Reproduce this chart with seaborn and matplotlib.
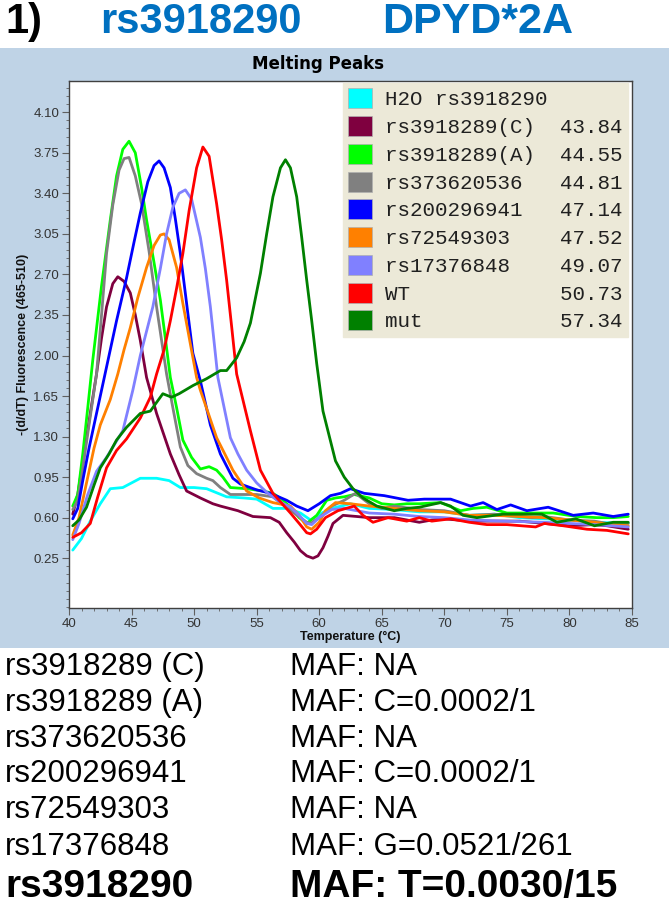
import numpy as np
import pandas as pd
import matplotlib
matplotlib.use("Agg")
import matplotlib.pyplot as plt
from matplotlib.patches import Patch, Rectangle
from matplotlib.ticker import AutoMinorLocator, FormatStrFormatter
import seaborn as sns

# ---- data ----
samples = ["H2O rs3918290", "rs3918289(C)", "rs3918289(A)", "rs373620536",
           "rs200296941", "rs72549303", "rs17376848", "WT", "mut"]
tm_values = ["", "43.84", "44.55", "44.81", "47.14", "47.52", "49.07", "50.73", "57.34"]
colors = ["#00FFFF", "#7F003F", "#00FF00", "#808080", "#0000FF",
          "#FF8000", "#8080FF", "#FF0000", "#008000"]

h2o_t = [40.3, 41.0, 41.7, 42.5, 43.3, 44.3, 45.0, 45.7, 47.0, 48.0, 48.9, 50.0, 51.0, 52.6,
         54.0, 55.0, 56.3, 57.5, 58.5, 59.3, 60.2, 61.0, 62.5, 64.0, 66.0, 68.0, 70.0, 72.0,
         74.0, 76.0, 78.0, 80.0, 82.0, 84.7]
h2o_y = [0.32, 0.42, 0.57, 0.72, 0.85, 0.86, 0.90, 0.94, 0.94, 0.92, 0.86, 0.86, 0.85, 0.78,
         0.77, 0.76, 0.68, 0.68, 0.64, 0.58, 0.64, 0.68, 0.72, 0.68, 0.67, 0.65, 0.65, 0.62,
         0.63, 0.60, 0.59, 0.58, 0.56, 0.55]

c_t = [40.3, 40.7, 41.2, 41.7, 42.2, 42.6, 43.0, 43.5, 43.9, 44.4, 44.9, 45.3, 45.7, 46.2,
       47.0, 48.1, 48.8, 49.4, 50.5, 51.5, 52.1, 53.5, 54.7, 56.1, 56.8, 57.4, 58.0, 58.5,
       59.0, 59.5, 59.9, 60.3, 60.7, 61.1, 61.9, 63.0, 64.0, 66.0, 67.0, 68.0, 69.0, 70.0,
       72.0, 74.0, 76.0, 78.0, 80.0, 82.0, 83.0, 84.7]
c_y = [0.63, 0.80, 1.15, 1.50, 1.84, 2.15, 2.42, 2.62, 2.68, 2.64, 2.54, 2.35, 2.13, 1.81,
       1.50, 1.15, 0.97, 0.83, 0.77, 0.72, 0.70, 0.66, 0.61, 0.60, 0.56, 0.47, 0.39, 0.315,
       0.27, 0.25, 0.27, 0.34, 0.44, 0.55, 0.62, 0.61, 0.60, 0.60, 0.58, 0.56, 0.58, 0.59,
       0.57, 0.57, 0.57, 0.55, 0.53, 0.54, 0.53, 0.50]

a_t = [40.3, 40.7, 41.1, 41.5, 41.9, 42.6, 43.3, 43.8, 44.3, 44.8, 45.3, 45.8, 46.2, 46.8,
       47.3, 47.7, 48.1, 48.6, 49.1, 49.8, 50.5, 51.2, 51.8, 52.3, 52.9, 54.2, 55.5, 56.3,
       57.0, 57.7, 58.4, 59.0, 59.8, 60.6, 61.3, 62.0, 62.8, 64.0, 65.0, 66.0, 67.0, 68.0,
       69.7, 71.3, 72.3, 73.4, 75.0, 76.9, 78.7, 80.6, 82.2, 83.5, 84.7]
a_y = [0.70, 0.80, 1.15, 1.55, 1.96, 2.60, 3.17, 3.55, 3.78, 3.85, 3.75, 3.45, 3.17, 2.80,
       2.48, 2.15, 1.81, 1.55, 1.27, 1.12, 1.02, 1.04, 1.01, 0.95, 0.86, 0.85, 0.83, 0.81,
       0.76, 0.69, 0.60, 0.55, 0.62, 0.75, 0.77, 0.78, 0.80, 0.77, 0.72, 0.71, 0.72, 0.72,
       0.73, 0.66, 0.68, 0.69, 0.64, 0.64, 0.64, 0.61, 0.60, 0.60, 0.61]

g_t = [40.3, 40.7, 41.0, 41.6, 42.2, 42.6, 43.0, 43.5, 44.0, 44.4, 44.8, 45.3, 45.8, 46.4,
       47.0, 47.8, 48.3, 48.9, 49.5, 50.2, 51.0, 51.5, 52.1, 52.9, 54.0, 55.0, 56.3, 57.0,
       58.0, 59.0, 59.3, 60.0, 61.0, 62.0, 62.9, 64.0, 65.0, 66.0, 68.0, 70.0, 71.0, 72.0,
       74.0, 75.0, 77.0, 78.0, 80.0, 82.0, 83.0, 84.7]
g_y = [0.67, 0.75, 0.95, 1.40, 1.84, 2.35, 2.88, 3.30, 3.60, 3.70, 3.71, 3.55, 3.31, 2.90,
       2.42, 1.84, 1.55, 1.21, 1.05, 0.98, 0.94, 0.92, 0.86, 0.80, 0.80, 0.80, 0.78, 0.72,
       0.64, 0.56, 0.55, 0.60, 0.70, 0.75, 0.81, 0.72, 0.68, 0.70, 0.67, 0.66, 0.64, 0.62,
       0.63, 0.62, 0.60, 0.61, 0.58, 0.57, 0.55, 0.55]

b_t = [40.3, 40.7, 41.1, 41.6, 42.2, 43.0, 43.8, 44.6, 45.2, 45.7, 46.3, 46.8, 47.2, 47.6,
       48.1, 48.5, 48.9, 49.4, 49.9, 50.5, 51.3, 52.1, 53.1, 53.7, 55.0, 56.1, 57.4, 58.2,
       59.1, 60.0, 60.9, 61.7, 62.5, 63.6, 65.2, 67.1, 68.4, 70.5, 72.1, 73.1, 74.2, 75.3,
       76.6, 78.3, 80.3, 81.9, 83.5, 84.7]
b_y = [0.59, 0.68, 0.92, 1.20, 1.50, 1.90, 2.30, 2.67, 2.98, 3.23, 3.50, 3.64, 3.68, 3.62,
       3.45, 3.18, 2.88, 2.45, 2.02, 1.78, 1.40, 1.15, 0.94, 0.89, 0.84, 0.81, 0.75, 0.70,
       0.66, 0.72, 0.79, 0.81, 0.85, 0.81, 0.79, 0.75, 0.76, 0.76, 0.70, 0.73, 0.67, 0.71,
       0.66, 0.69, 0.62, 0.64, 0.61, 0.63]

o_t = [40.3, 40.8, 41.5, 42.0, 42.5, 43.3, 43.9, 44.4, 44.9, 45.5, 46.2, 46.8, 47.3, 47.6,
       48.0, 48.6, 49.1, 49.7, 50.2, 50.5, 51.2, 51.8, 52.5, 53.1, 54.2, 55.2, 56.3, 57.7,
       58.4, 59.0, 59.4, 60.0, 60.5, 61.3, 62.5, 64.0, 66.0, 68.0, 70.0, 72.0, 74.0, 76.0,
       78.0, 80.0, 82.0, 83.5, 84.7]
o_y = [0.45, 0.60, 0.95, 1.20, 1.40, 1.62, 1.84, 2.05, 2.24, 2.50, 2.76, 2.95, 3.04, 3.05,
       3.00, 2.76, 2.45, 2.10, 1.81, 1.70, 1.48, 1.29, 1.14, 1.01, 0.83, 0.77, 0.73, 0.70,
       0.62, 0.52, 0.50, 0.56, 0.66, 0.73, 0.72, 0.70, 0.68, 0.66, 0.65, 0.62, 0.62, 0.61,
       0.60, 0.58, 0.56, 0.54, 0.53]

l_t = [40.3, 40.8, 41.5, 42.2, 43.0, 44.3, 45.1, 45.7, 46.7, 47.3, 47.8, 48.3, 48.8, 49.3,
       49.8, 50.5, 50.9, 51.3, 51.9, 52.9, 53.5, 54.2, 55.0, 55.9, 56.8, 57.7, 58.4, 59.0,
       59.4, 60.0, 61.0, 62.0, 63.0, 64.0, 66.0, 68.0, 70.0, 72.0, 75.0, 78.0, 80.0, 82.0,
       84.7]
l_y = [0.41, 0.55, 0.80, 1.00, 1.12, 1.35, 1.70, 2.00, 2.42, 2.75, 3.05, 3.28, 3.40, 3.43,
       3.35, 3.02, 2.75, 2.42, 1.81, 1.29, 1.15, 1.01, 0.90, 0.81, 0.74, 0.69, 0.62, 0.55,
       0.54, 0.60, 0.67, 0.68, 0.66, 0.64, 0.63, 0.61, 0.60, 0.58, 0.57, 0.56, 0.55, 0.54,
       0.52]

wt_t = [40.3, 41.0, 41.7, 42.3, 43.0, 43.8, 44.6, 45.7, 46.5, 47.0, 47.6, 48.1, 48.6, 49.1,
        49.6, 50.2, 50.7, 51.2, 51.8, 52.2, 52.6, 53.0, 53.4, 54.5, 55.3, 56.3, 57.7, 58.4,
        59.0, 59.3, 59.8, 60.5, 61.5, 62.8, 63.5, 64.3, 65.5, 67.0, 68.0, 69.0, 70.5, 72.0,
        73.4, 75.0, 77.3, 78.0, 79.5, 81.4, 83.0, 84.7]
wt_y = [0.43, 0.47, 0.55, 0.78, 1.03, 1.18, 1.28, 1.46, 1.64, 1.84, 2.05, 2.30, 2.58, 2.88,
        3.25, 3.62, 3.80, 3.72, 3.31, 3.00, 2.65, 2.25, 1.84, 1.35, 1.01, 0.81, 0.64, 0.55,
        0.47, 0.46, 0.50, 0.60, 0.66, 0.70, 0.62, 0.56, 0.60, 0.57, 0.60, 0.57, 0.59, 0.56,
        0.54, 0.54, 0.52, 0.55, 0.53, 0.50, 0.49, 0.46]

mut_t = [40.3, 40.8, 41.4, 42.0, 42.5, 43.2, 43.8, 44.6, 45.7, 46.5, 47.5, 48.2, 48.8, 49.9,
         51.0, 52.1, 52.6, 53.4, 54.0, 54.5, 55.3, 55.8, 56.3, 56.9, 57.3, 57.7, 58.2, 58.6,
         59.0, 59.4, 59.8, 60.3, 61.3, 62.0, 62.7, 63.5, 64.6, 66.0, 67.0, 68.0, 69.7, 70.5,
         71.5, 72.6, 74.7, 76.5, 77.8, 79.0, 80.5, 82.0, 83.5, 84.7]
mut_y = [0.53, 0.58, 0.69, 0.88, 1.03, 1.15, 1.27, 1.38, 1.50, 1.52, 1.67, 1.64, 1.67, 1.74,
         1.80, 1.87, 1.87, 1.98, 2.12, 2.28, 2.71, 3.05, 3.37, 3.62, 3.69, 3.62, 3.37, 3.02,
         2.65, 2.30, 1.93, 1.52, 1.09, 0.95, 0.85, 0.77, 0.70, 0.66, 0.68, 0.69, 0.73, 0.70,
         0.62, 0.60, 0.63, 0.63, 0.63, 0.56, 0.59, 0.53, 0.56, 0.56]

x_ticks = [40, 45, 50, 55, 60, 65, 70, 75, 80, 85]
y_ticks = [0.25, 0.60, 0.95, 1.30, 1.65, 2.00, 2.35, 2.70, 3.05, 3.40, 3.75, 4.10]

snp_names = ["rs3918289 (C)", "rs3918289 (A)", "rs373620536", "rs200296941",
             "rs72549303", "rs17376848", "rs3918290"]
snp_maf = ["MAF: NA", "MAF: C=0.0002/1", "MAF: NA", "MAF: C=0.0002/1",
           "MAF: NA", "MAF: G=0.0521/261", "MAF: T=0.0030/15"]

series_t = [h2o_t, c_t, a_t, g_t, b_t, o_t, l_t, wt_t, mut_t]
series_y = [h2o_y, c_y, a_y, g_y, b_y, o_y, l_y, wt_y, mut_y]

df = pd.concat([pd.DataFrame({"Temperature": t, "Signal": y, "Sample": s})
                for t, y, s in zip(series_t, series_y, samples)], ignore_index=True)

sns.set_theme(style="white")
plt.rcParams["font.family"] = ["Liberation Sans", "DejaVu Sans"]

W, H = 669, 909
fig = plt.figure(figsize=(W / 100, H / 100), dpi=100)
fig.patch.set_facecolor("white")

# light-blue instrument panel behind the axes
fig.patches.append(Rectangle((0, 1 - 648 / H), 1, 600 / H, transform=fig.transFigure,
                             facecolor="#BFD3E6", edgecolor="none", zorder=-10))

ax = fig.add_axes([69 / W, 1 - 608 / H, 563 / W, 527 / H])
ax.set_zorder(5)
ax.set_facecolor("white")

sns.lineplot(data=df, x="Temperature", y="Signal", hue="Sample", hue_order=samples,
             palette=colors, estimator=None, sort=False, linewidth=2.0, legend=False, ax=ax)

ax.set_xlim(40, 85)
ax.set_ylim(-0.18, 4.37)
ax.set_xticks(x_ticks)
ax.set_yticks(y_ticks)
ax.yaxis.set_major_formatter(FormatStrFormatter("%.2f"))
ax.xaxis.set_minor_locator(AutoMinorLocator(5))
ax.yaxis.set_minor_locator(AutoMinorLocator(5))
ax.tick_params(which="both", direction="out", color="#606060", labelcolor="#333333",
               labelsize=9.5, left=True, bottom=True)
ax.tick_params(which="major", length=5, width=0.8, pad=2)
ax.tick_params(which="minor", length=2.5, width=0.6)
for sp in ax.spines.values():
    sp.set_color("#404040")
    sp.set_linewidth(1.0)

ax.set_xlabel("Temperature (°C)", fontsize=9, fontweight="bold", color="#111111", labelpad=1)
ax.set_ylabel("-(d/dT) Fluorescence (465-510)", fontsize=9, fontweight="bold",
              color="#111111", labelpad=3)

# legend with melting temperatures
handles = [Patch(facecolor=c, edgecolor="#B0B0B0", linewidth=0.5) for c in colors]
labels = [f"{s:<14}{v}" if v else s for s, v in zip(samples, tm_values)]
leg = ax.legend(handles, labels, loc="upper right", bbox_to_anchor=(0.993, 0.996),
                borderaxespad=0, frameon=True, fancybox=False, framealpha=1,
                facecolor="#ECE9D8", edgecolor="#ECE9D8",
                prop={"family": "Liberation Mono", "size": 15},
                handlelength=1.15, handleheight=1.1, handletextpad=0.65,
                labelspacing=0.32, borderpad=0.25)
for t in leg.get_texts():
    t.set_color("#202020")

fig.text(318 / W, 1 - 64 / H, "Melting Peaks", ha="center", va="center",
         fontsize=12, fontweight="bold", family="DejaVu Sans", color="black")

# heading
fig.text(5 / W, 1 - 22 / H, "1)", ha="left", va="center", fontsize=30,
         fontweight="bold", color="black")
fig.text(100 / W, 1 - 22 / H, "rs3918290", ha="left", va="center", fontsize=30,
         fontweight="bold", color="#0070C0")
fig.text(382 / W, 1 - 22 / H, "DPYD*2A", ha="left", va="center", fontsize=31,
         fontweight="bold", color="#0070C0")

# SNP list under the chart
row_y = [667, 703, 739, 774, 810, 847, 887]
for i, (name, maf, yy) in enumerate(zip(snp_names, snp_maf, row_y)):
    last = i == len(snp_names) - 1
    kw = dict(ha="left", va="center", color="black",
              fontsize=28 if last else 22.5, fontweight="bold" if last else "normal")
    fig.text(5 / W, 1 - yy / H, name, **kw)
    fig.text(290 / W, 1 - yy / H, maf, **kw)

fig.savefig("out.png", dpi=100)
